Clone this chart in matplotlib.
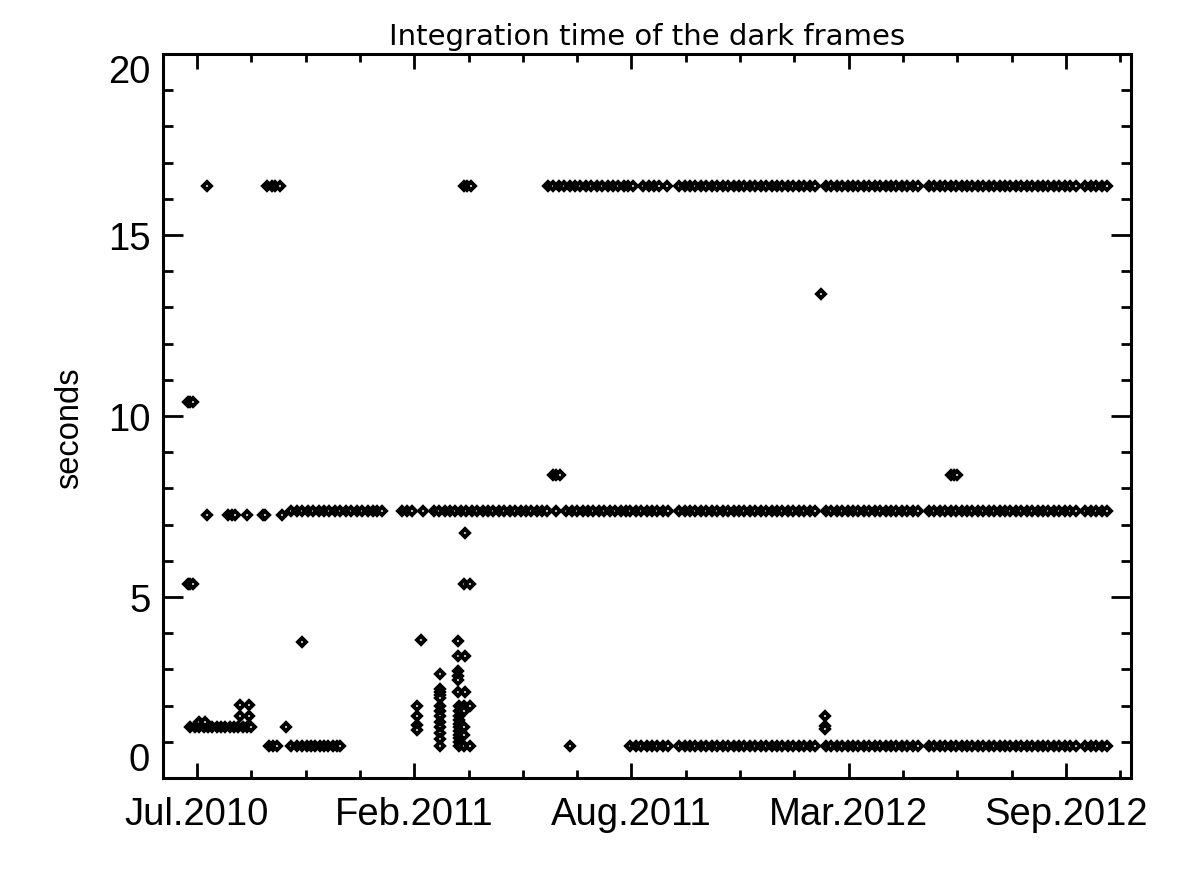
import matplotlib
matplotlib.use("Agg")
import matplotlib.pyplot as plt
from matplotlib.ticker import FixedLocator, MultipleLocator

# x axis: days counted from the Jul.2010 tick
tick_days = [0, 200, 400, 600, 800]
tick_labels = ["Jul.2010", "Feb.2011", "Aug.2011", "Mar.2012", "Sep.2012"]
y_ticks = [0, 5, 10, 15, 20]

# routine dark frames after Aug.2011 (same days in all three long rows)
late_days = [399, 404, 409, 414, 419, 424, 429, 434,
             444, 449, 454, 459, 464, 469, 474, 479, 484, 489, 494, 499, 504, 509,
             514, 519, 524, 529, 534, 539, 544, 549, 554, 559, 564, 569,
             579, 584, 589, 594, 599, 604, 609, 614, 619, 624, 629, 634, 639, 644,
             649, 654, 659, 664,
             674, 679, 684, 689, 694, 699, 704, 709, 714, 719, 724, 729, 734, 739,
             744, 749, 754, 759, 764, 769, 774, 779, 784, 789, 794, 799, 804, 809,
             818, 823, 828, 833, 838]

# 16.4 s row
days_164 = [9, 64, 69, 72, 76, 246, 249, 252,
            323, 328, 333, 338, 343, 348, 353, 358, 363, 368, 373, 378, 383, 388,
            393, 397, 401, 411, 416, 421, 425, 433] + late_days[8:]
level_164 = 16.35

# 7.4 s row
days_74 = [87, 92, 97, 102, 107, 112, 117, 122, 127, 132, 137, 142, 147, 152,
           157, 162, 166, 170,
           189, 193, 198, 208, 218, 223, 228, 233, 238, 243, 248, 253, 258, 263,
           268, 273, 278, 283, 288, 293, 298, 303, 308, 313, 318, 322, 331,
           340, 345, 350, 355, 360, 365, 370, 375, 380, 385, 390, 395] + late_days
level_74 = 7.38

# 7.3 s early points
days_73 = [9, 29, 32, 35, 46, 61, 63, 78]
level_73 = 7.27

# 0.85 s row
days_085 = [66, 70, 74, 87, 92, 97, 101, 105, 109, 113, 117, 121, 125, 129, 132,
            343] + late_days
level_085 = 0.88

# 1.4 s early row
days_14 = [-6, -2, 2, 6, 10, 14, 18, 22, 26, 30, 34, 38, 42, 46, 50, 82]
level_14 = 1.41

# scattered single frames
other_days = [2, 7, 40, 48, 40, 48, 97,
              -8, -6, -4, -8, -6, -4,
              328, 331, 334, 694, 697, 700, 575,
              247, 246, 251, 578, 578, 578]
other_vals = [1.55, 1.55, 2.02, 2.02, 1.71, 1.71, 3.76,
              10.39, 10.39, 10.39, 5.36, 5.36, 5.36,
              8.37, 8.37, 8.37, 8.37, 8.37, 8.37, 13.37,
              6.77, 5.36, 5.36, 1.71, 1.44, 1.35]

# burst of short exposures around Feb.2011
burst_days = [203, 203, 203, 203, 206,
              224, 224, 224, 224, 224, 224, 224, 224, 224, 224, 224, 224, 224,
              240, 240, 240, 240, 240, 240, 247, 247,
              241, 241, 241, 241, 241, 241, 241, 241, 241, 241, 241,
              246, 246, 246, 246, 246, 251, 251]
burst_vals = [1.99, 1.71, 1.46, 1.33, 3.81,
              2.87, 2.46, 2.38, 2.30, 2.22, 1.99, 1.85, 1.71, 1.55, 1.41, 1.24, 1.08, 0.88,
              3.78, 3.37, 2.95, 2.82, 2.70, 2.38, 3.37, 2.38,
              1.99, 1.85, 1.71, 1.60, 1.50, 1.41, 1.30, 1.20, 1.10, 1.00, 0.88,
              1.99, 1.85, 1.41, 1.20, 0.88, 1.99, 0.88]

fig = plt.figure(figsize=(11.98, 8.78), dpi=100)
ax = fig.add_axes([163 / 1198, 1 - 779 / 878, 968 / 1198, 724 / 878])

mk = dict(ls="none", marker="D", ms=4.2, mfc="white", mec="black", mew=2.8)
rows = [(days_164, level_164), (days_74, level_74), (days_73, level_73),
        (days_085, level_085), (days_14, level_14)]
for d, lev in rows:
    ax.plot(d, [lev] * len(d), **mk)
ax.plot(other_days, other_vals, **mk)
ax.plot(burst_days, burst_vals, **mk)

ax.set_xlim(-31.3, 860)
ax.set_ylim(0, 20)
ax.xaxis.set_major_locator(FixedLocator(tick_days))
ax.set_xticklabels(tick_labels)
ax.xaxis.set_minor_locator(MultipleLocator(50))
ax.yaxis.set_major_locator(FixedLocator(y_ticks))
# end labels are pulled inside the axis range, drawn separately below
ax.set_yticklabels([""] + [str(v) for v in y_ticks[1:-1]] + [""])
ax.yaxis.set_minor_locator(MultipleLocator(1))

for s in ax.spines.values():
    s.set_linewidth(2.2)
ax.tick_params(axis="both", which="both", direction="in", width=2,
               top=True, right=True, labelfontfamily="Liberation Sans",
               labelsize=27.5)
ax.tick_params(axis="x", which="major", length=11, pad=13)
ax.tick_params(axis="x", which="minor", length=5.5)
ax.tick_params(axis="y", which="major", length=14.5, pad=9)
ax.tick_params(axis="y", which="minor", length=7.5)

ytr = ax.get_yaxis_transform()
ax.text(-13 / 968, y_ticks[0], str(y_ticks[0]), transform=ytr, ha="right",
        va="bottom", fontsize=27.5, family="Liberation Sans")
ax.text(-13 / 968, y_ticks[-1], str(y_ticks[-1]), transform=ytr, ha="right",
        va="top", fontsize=27.5, family="Liberation Sans")

fig.text(70 / 1198, 1 - 428 / 878, "seconds", rotation=90, ha="center",
         va="center", fontsize=23.5, family="Liberation Sans")
fig.text(647 / 1198, 1 - 45 / 878, "Integration time of the dark frames",
         ha="center", va="baseline", fontsize=21, family="DejaVu Sans")

fig.savefig("out.png", dpi=100, facecolor="white")
